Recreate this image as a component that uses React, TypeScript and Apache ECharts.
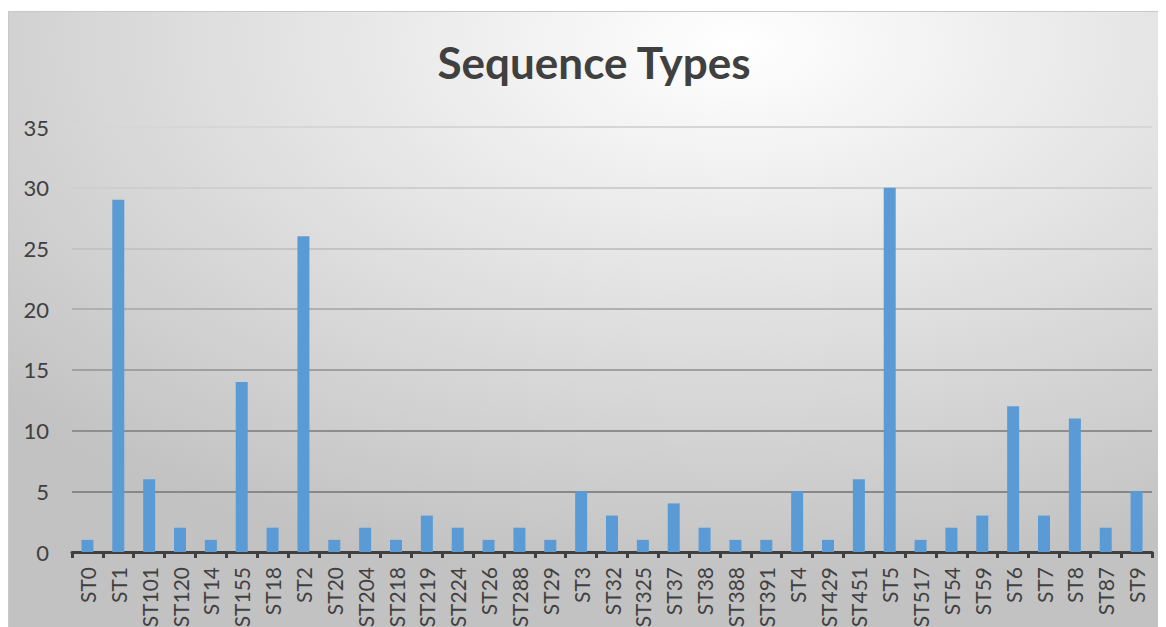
import React, { useEffect, useRef } from "react";
import * as echarts from "echarts";

const categories = [
  "ST0", "ST1", "ST101", "ST120", "ST14", "ST155", "ST18", "ST2", "ST20", "ST204",
  "ST218", "ST219", "ST224", "ST26", "ST288", "ST29", "ST3", "ST32", "ST325", "ST37",
  "ST38", "ST388", "ST391", "ST4", "ST429", "ST451", "ST5", "ST517", "ST54", "ST59",
  "ST6", "ST7", "ST8", "ST87", "ST9",
];
const counts = [
  1, 29, 6, 2, 1, 14, 2, 26, 1, 2,
  1, 3, 2, 1, 2, 1, 5, 3, 1, 4,
  2, 1, 1, 5, 1, 6, 30, 1, 2, 3,
  12, 3, 11, 2, 5,
];
const titleText = "Sequence Types";

export default function App() {
  const ref = useRef<HTMLDivElement>(null);
  useEffect(() => {
    if (!ref.current) return;
    const chart = echarts.init(ref.current, null, { renderer: "svg" });
    chart.setOption({
      animation: false,
      backgroundColor: new echarts.graphic.RadialGradient(0.63, 0.05, 0.85, [
        { offset: 0, color: "#ffffff" },
        { offset: 1, color: "#c2c2c2" },
      ]),
      title: {
        text: titleText,
        left: 580,
        textAlign: "center",
        top: 23,
        textStyle: {
          fontFamily: "Lato",
          fontWeight: "bold",
          fontSize: 44,
          color: "#404040",
        },
      },
      grid: { left: 63, right: 10, top: 115, bottom: 98 },
      xAxis: {
        type: "category",
        data: categories,
        axisLine: { show: true, lineStyle: { color: "#404040", width: 3 } },
        axisTick: { show: true, length: 6, lineStyle: { color: "#404040", width: 3 } },
        axisLabel: {
          rotate: 90,
          interval: 0,
          margin: 15,
          fontFamily: "Lato",
          fontSize: 21,
          color: "#404040",
        },
      },
      yAxis: {
        type: "value",
        min: 0,
        max: 35,
        interval: 5,
        axisLine: { show: false },
        axisTick: { show: false },
        axisLabel: {
          margin: 23,
          fontFamily: "Lato",
          fontSize: 22,
          color: "#404040",
        },
        splitLine: {
          lineStyle: {
            width: 2,
            color: ["#808080", "#888888", "#8e8e8e", "#a0a0a0", "#b0b0b0", "#c4c4c4", "#cfcfcf", "#d6d6d6"],
          },
        },
      },
      series: [
        {
          type: "bar",
          data: counts,
          barWidth: 12,
          itemStyle: { color: "#5b9bd5" },
        },
      ],
    });
    return () => chart.dispose();
  }, []);
  return (
    <div
      ref={ref}
      style={{
        width: 1155,
        height: 640,
        marginTop: 3,
        border: "1px solid #c8c8c8",
        boxSizing: "border-box",
      }}
    />
  );
}
